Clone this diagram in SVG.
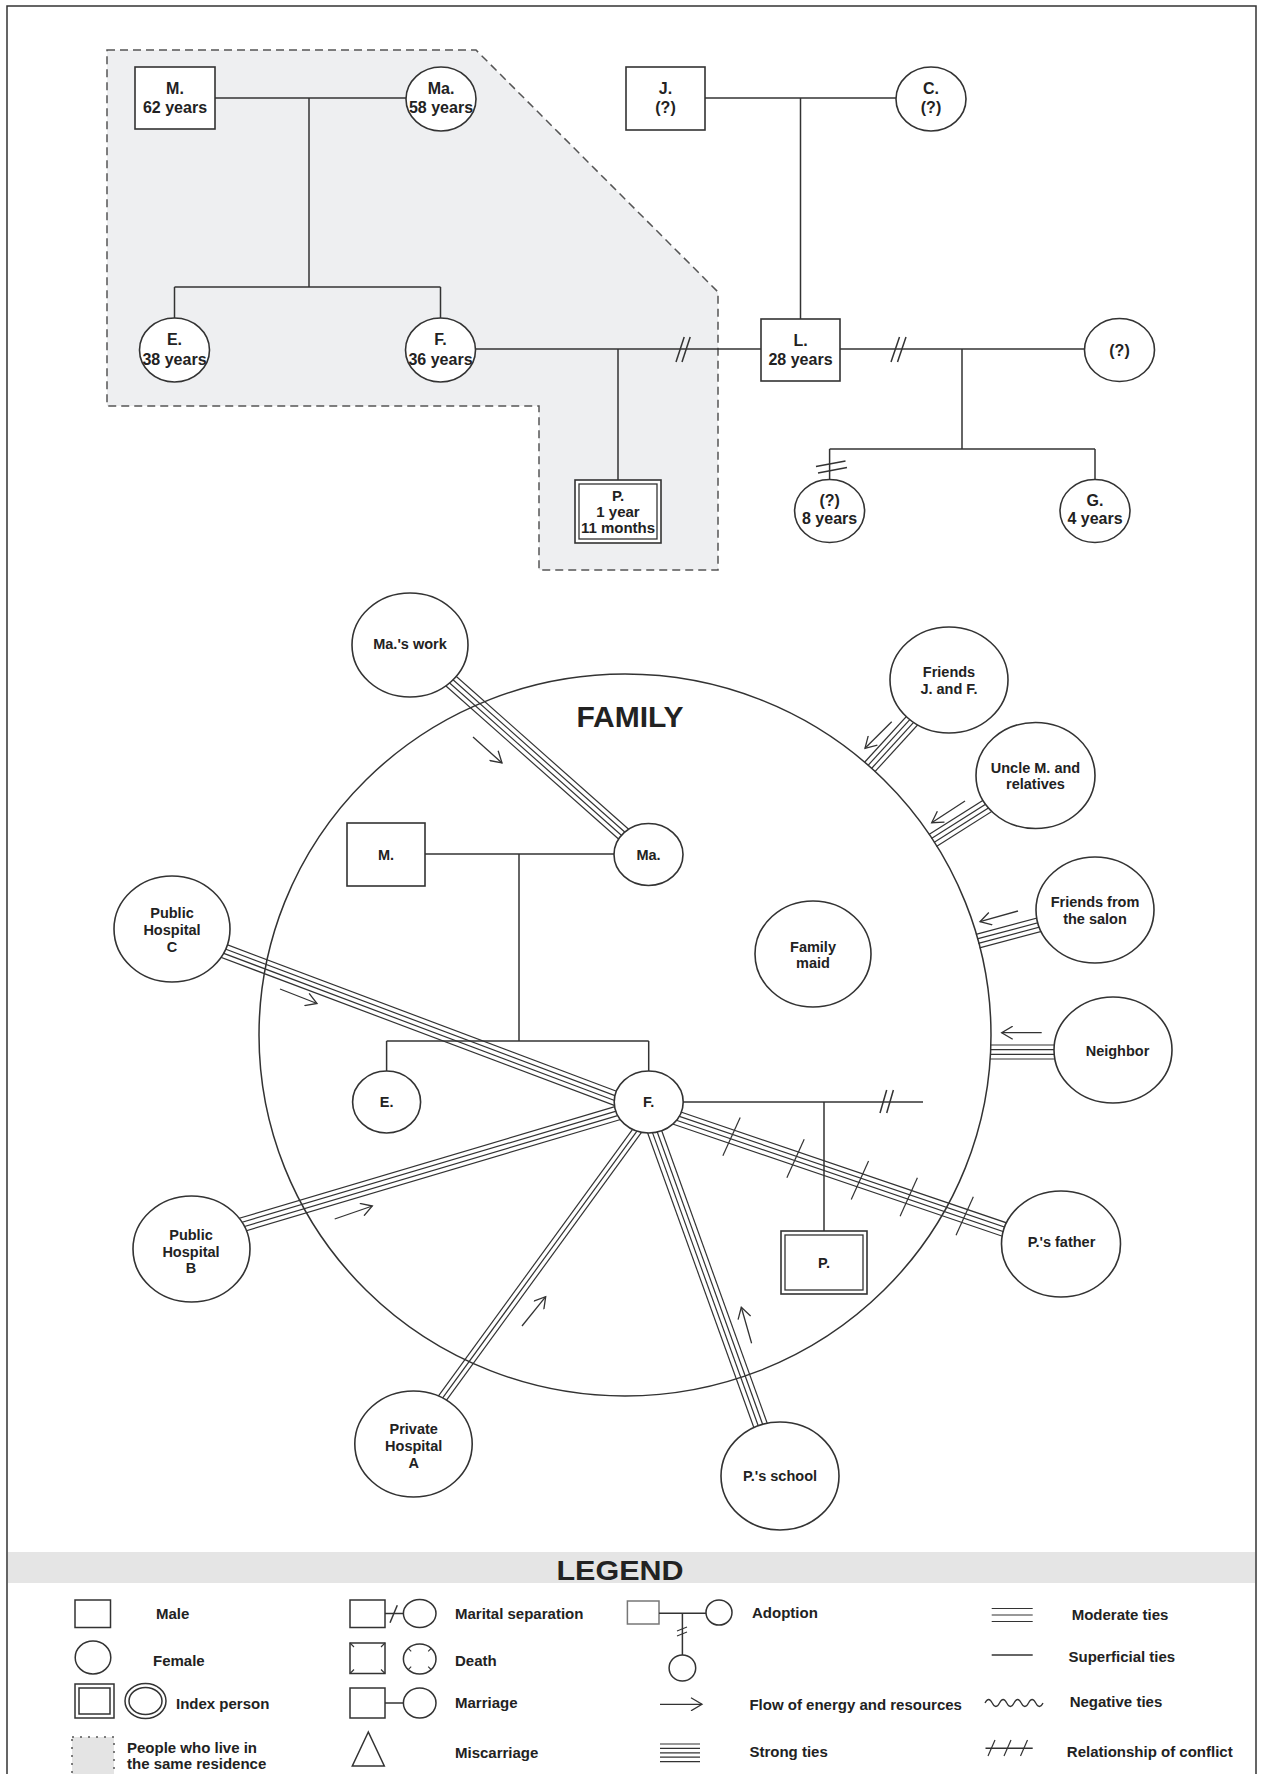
<svg xmlns="http://www.w3.org/2000/svg" width="1264" height="1774" viewBox="0 0 1264 1774">
<defs>
<marker id="arr" markerUnits="userSpaceOnUse" markerWidth="14" markerHeight="14" refX="12" refY="7" orient="auto" viewBox="0 0 14 14"><path d="M1,0.5 L12,7 L1,13.5" fill="none" stroke="#333" stroke-width="1.3"/></marker>
</defs>
<style>
.ln{stroke:#333;stroke-width:1.5;fill:none}
.nd{fill:#fff;stroke:#333;stroke-width:1.6}
.t{font-family:"Liberation Sans",Arial,sans-serif;font-weight:bold;fill:#222;text-anchor:middle}
.t16{font-size:16px}
.t14{font-size:14.5px}
.lg{font-family:"Liberation Sans",Arial,sans-serif;font-weight:bold;font-size:15px;fill:#222}
.tie line{stroke:#333;stroke-width:1.2}
.flow{stroke:#333;stroke-width:1.3;fill:none;marker-end:url(#arr)}
.sl{stroke:#333;stroke-width:1.4}
</style>
<rect x="0" y="0" width="1264" height="1774" fill="#fff"/>
<path d="M7,1774 V6 H1256 V1774" fill="none" stroke="#333" stroke-width="1.5"/>

<!-- ===== Top genogram ===== -->
<g id="residence">
<polygon points="107,50 476,50 718,292 718,570 539,570 539,406 107,406" fill="#eeeff1" stroke="#555" stroke-width="1.5" stroke-dasharray="8 5"/>
</g>
<g id="genogram-lines" class="ln">
<line x1="215" y1="98" x2="406" y2="98"/>
<line x1="309" y1="98" x2="309" y2="287"/>
<line x1="174.5" y1="287" x2="440.5" y2="287"/>
<line x1="174.5" y1="287" x2="174.5" y2="318"/>
<line x1="440.5" y1="287" x2="440.5" y2="318"/>
<line x1="475" y1="349" x2="761" y2="349"/>
<line x1="618" y1="349" x2="618" y2="480"/>
<line x1="676" y1="362" x2="684.2" y2="337"/>
<line x1="682" y1="362" x2="690.2" y2="337"/>
<line x1="705" y1="98" x2="896" y2="98"/>
<line x1="800.5" y1="98" x2="800.5" y2="319"/>
<line x1="840" y1="349" x2="1085" y2="349"/>
<line x1="891" y1="362" x2="899.5" y2="337"/>
<line x1="897.5" y1="362" x2="906" y2="337"/>
<line x1="962" y1="349" x2="962" y2="449"/>
<line x1="829.6" y1="449" x2="1095" y2="449"/>
<line x1="829.6" y1="449" x2="829.6" y2="480"/>
<line x1="1095" y1="449" x2="1095" y2="480"/>
<line x1="816" y1="466.5" x2="845.5" y2="461"/>
<line x1="818" y1="473" x2="847" y2="467.5"/>
</g>
<g id="g-M"><rect class="nd" x="135" y="67" width="80" height="62"/><text class="t t16" x="175" y="94">M.</text><text class="t t16" x="175" y="113">62 years</text></g>
<g id="g-Ma"><ellipse class="nd" cx="441" cy="99" rx="35" ry="32"/><text class="t t16" x="441" y="94">Ma.</text><text class="t t16" x="441" y="113">58 years</text></g>
<g id="g-E"><ellipse class="nd" cx="174.5" cy="350" rx="35" ry="32"/><text class="t t16" x="174.5" y="345">E.</text><text class="t t16" x="174.5" y="364.5">38 years</text></g>
<g id="g-F"><ellipse class="nd" cx="440.5" cy="350" rx="35" ry="32"/><text class="t t16" x="440.5" y="345">F.</text><text class="t t16" x="440.5" y="364.5">36 years</text></g>
<g id="g-P"><rect class="nd" x="575" y="480" width="86" height="63"/><rect x="579" y="484" width="78" height="55" fill="none" stroke="#333" stroke-width="1.3"/><text class="t" style="font-size:15px" x="618" y="500.5">P.</text><text class="t" style="font-size:15px" x="618" y="517">1 year</text><text class="t" style="font-size:15px" x="618" y="532.5">11 months</text></g>
<g id="g-J"><rect class="nd" x="626" y="67" width="79" height="63"/><text class="t t16" x="665.5" y="94">J.</text><text class="t t16" x="665.5" y="113">(?)</text></g>
<g id="g-C"><ellipse class="nd" cx="931" cy="99" rx="35" ry="32"/><text class="t t16" x="931" y="94">C.</text><text class="t t16" x="931" y="113">(?)</text></g>
<g id="g-L"><rect class="nd" x="761" y="319" width="79" height="62"/><text class="t t16" x="800.5" y="345.5">L.</text><text class="t t16" x="800.5" y="364.5">28 years</text></g>
<g id="g-Lwife"><ellipse class="nd" cx="1119.5" cy="350" rx="35" ry="31.5"/><text class="t t16" x="1119.5" y="356">(?)</text></g>
<g id="g-child8"><ellipse class="nd" cx="829.6" cy="511" rx="35" ry="31.5"/><text class="t t16" x="829.6" y="506">(?)</text><text class="t t16" x="829.6" y="524">8 years</text></g>
<g id="g-G"><ellipse class="nd" cx="1095" cy="511" rx="35" ry="31.5"/><text class="t t16" x="1095" y="506">G.</text><text class="t t16" x="1095" y="524">4 years</text></g>

<!-- ===== Eco-map ===== -->
<g id="family-circle">
<ellipse cx="625" cy="1035" rx="366" ry="361" fill="none" stroke="#333" stroke-width="1.5"/>
<text class="t" style="font-size:30px" x="630" y="727">FAMILY</text>
</g>
<g id="eco-genogram-lines" class="ln">
<line x1="425" y1="854" x2="614" y2="854"/>
<line x1="519" y1="854" x2="519" y2="1041"/>
<line x1="386.6" y1="1041" x2="648.7" y2="1041"/>
<line x1="386.6" y1="1041" x2="386.6" y2="1071"/>
<line x1="648.7" y1="1041" x2="648.7" y2="1071"/>
<line x1="683" y1="1102" x2="923" y2="1102"/>
<line x1="824" y1="1102" x2="824" y2="1231"/>
<line x1="880" y1="1113" x2="886.7" y2="1090"/>
<line x1="886.7" y1="1113" x2="893.4" y2="1090"/>
</g>
<g id="connectors">
<g class="tie" transform="translate(443 674) rotate(41.57)"><line x1="0" y1="-7" x2="248" y2="-7"/><line x1="0" y1="-2.33" x2="248" y2="-2.33"/><line x1="0" y1="2.33" x2="248" y2="2.33"/><line x1="0" y1="7" x2="248" y2="7"/></g>
<g class="tie" transform="translate(210 945.7) rotate(20.63)"><line x1="0" y1="-7" x2="441" y2="-7"/><line x1="0" y1="-2.33" x2="441" y2="-2.33"/><line x1="0" y1="2.33" x2="441" y2="2.33"/><line x1="0" y1="7" x2="441" y2="7"/></g>
<g class="tie" transform="translate(231 1228) rotate(-16.55)"><line x1="0" y1="-7" x2="409.6" y2="-7"/><line x1="0" y1="-2.33" x2="409.6" y2="-2.33"/><line x1="0" y1="2.33" x2="409.6" y2="2.33"/><line x1="0" y1="7" x2="409.6" y2="7"/></g>
<g class="tie" transform="translate(434.7 1408.8) rotate(-53.94)"><line x1="0" y1="-4.5" x2="347.6" y2="-4.5"/><line x1="0" y1="0" x2="347.6" y2="0"/><line x1="0" y1="4.5" x2="347.6" y2="4.5"/></g>
<g class="tie" transform="translate(766.1 1440.8) rotate(-109.83)"><line x1="0" y1="-7" x2="333.5" y2="-7"/><line x1="0" y1="-2.33" x2="333.5" y2="-2.33"/><line x1="0" y1="2.33" x2="333.5" y2="2.33"/><line x1="0" y1="7" x2="333.5" y2="7"/></g>
<g class="tie" transform="translate(668.3 1115.1) rotate(18.8)"><line x1="0" y1="-7" x2="371.7" y2="-7"/><line x1="0" y1="-2.33" x2="371.7" y2="-2.33"/><line x1="0" y1="2.33" x2="371.7" y2="2.33"/><line x1="0" y1="7" x2="371.7" y2="7"/>
<line x1="64.8" y1="21" x2="68.8" y2="-21"/><line x1="132.4" y1="21" x2="136.4" y2="-21"/><line x1="200.4" y1="21" x2="204.4" y2="-21"/><line x1="252" y1="21" x2="256" y2="-21"/><line x1="311.1" y1="21" x2="315.1" y2="-21"/></g>
<g class="tie" transform="translate(625 1035) rotate(-47.6)"><line x1="363" y1="-7" x2="480" y2="-7"/><line x1="363" y1="-2.33" x2="480" y2="-2.33"/><line x1="363" y1="2.33" x2="480" y2="2.33"/><line x1="363" y1="7" x2="480" y2="7"/></g>
<g class="tie" transform="translate(625 1035) rotate(-32.3)"><line x1="364" y1="-7" x2="485" y2="-7"/><line x1="364" y1="-2.33" x2="485" y2="-2.33"/><line x1="364" y1="2.33" x2="485" y2="2.33"/><line x1="364" y1="7" x2="485" y2="7"/></g>
<g class="tie" transform="translate(625 1035) rotate(-14.9)"><line x1="365" y1="-7" x2="486" y2="-7"/><line x1="365" y1="-2.33" x2="486" y2="-2.33"/><line x1="365" y1="2.33" x2="486" y2="2.33"/><line x1="365" y1="7" x2="486" y2="7"/></g>
<g class="tie" transform="translate(0 1052)"><line x1="990" y1="-7" x2="1113" y2="-7"/><line x1="990" y1="-2.33" x2="1113" y2="-2.33"/><line x1="990" y1="2.33" x2="1113" y2="2.33"/><line x1="990" y1="7" x2="1113" y2="7"/></g>
<line class="flow" x1="473" y1="737" x2="502" y2="763"/>
<line class="flow" x1="280" y1="989" x2="317" y2="1003.5"/>
<line class="flow" x1="334.7" y1="1219" x2="372.3" y2="1206"/>
<line class="flow" x1="522" y1="1326" x2="545.7" y2="1296.7"/>
<line class="flow" x1="751.6" y1="1343.3" x2="741.3" y2="1307.3"/>
<line class="flow" x1="891.7" y1="721.7" x2="865" y2="748.3"/>
<line class="flow" x1="965" y1="801" x2="931.7" y2="822.7"/>
<line class="flow" x1="1018" y1="911" x2="980" y2="921.7"/>
<line class="flow" x1="1041.7" y1="1032.7" x2="1001.7" y2="1032.7"/>
</g>
<g id="e-M"><rect class="nd" x="347" y="823" width="78" height="63"/><text class="t t14" x="386" y="860">M.</text></g>
<g id="e-Ma"><ellipse class="nd" cx="648.5" cy="854.5" rx="34.5" ry="31"/><text class="t t14" x="648.5" y="859.5">Ma.</text></g>
<g id="e-E"><ellipse class="nd" cx="386.6" cy="1102" rx="34" ry="31"/><text class="t t14" x="386.6" y="1107">E.</text></g>
<g id="e-F"><ellipse class="nd" cx="648.7" cy="1102" rx="34.5" ry="31"/><text class="t t14" x="648.7" y="1107">F.</text></g>
<g id="e-P"><rect class="nd" x="781" y="1231" width="86" height="63"/><rect x="785" y="1235" width="78" height="55" fill="none" stroke="#333" stroke-width="1.3"/><text class="t t14" x="824" y="1267.5">P.</text></g>
<g id="e-maid"><ellipse class="nd" cx="813" cy="954" rx="58" ry="53"/><text class="t t14" x="813" y="952">Family</text><text class="t t14" x="813" y="968">maid</text></g>
<g id="e-mawork"><ellipse class="nd" cx="410" cy="645" rx="58" ry="52"/><text class="t t14" x="410" y="649">Ma.'s work</text></g>
<g id="e-friendsJF"><ellipse class="nd" cx="949" cy="680" rx="59" ry="53"/><text class="t t14" x="949" y="677">Friends</text><text class="t t14" x="949" y="694">J. and F.</text></g>
<g id="e-uncle"><ellipse class="nd" cx="1035.5" cy="775.5" rx="59.5" ry="53"/><text class="t t14" x="1035.5" y="772.5">Uncle M. and</text><text class="t t14" x="1035.5" y="789">relatives</text></g>
<g id="e-salon"><ellipse class="nd" cx="1095" cy="910" rx="59" ry="53"/><text class="t t14" x="1095" y="907">Friends from</text><text class="t t14" x="1095" y="924">the salon</text></g>
<g id="e-neighbor"><ellipse class="nd" cx="1113" cy="1050" rx="59" ry="53"/><text class="t t14" x="1117.5" y="1056">Neighbor</text></g>
<g id="e-pfather"><ellipse class="nd" cx="1061" cy="1244" rx="59.5" ry="53"/><text class="t t14" x="1061.5" y="1247">P.'s father</text></g>
<g id="e-school"><ellipse class="nd" cx="780" cy="1476" rx="59" ry="54"/><text class="t t14" x="780" y="1481">P.'s school</text></g>
<g id="e-privA"><ellipse class="nd" cx="413.5" cy="1444" rx="58.7" ry="53"/><text class="t t14" x="413.7" y="1434">Private</text><text class="t t14" x="413.7" y="1451">Hospital</text><text class="t t14" x="413.7" y="1468">A</text></g>
<g id="e-pubB"><ellipse class="nd" cx="191.5" cy="1249" rx="58.5" ry="53"/><text class="t t14" x="191" y="1240">Public</text><text class="t t14" x="191" y="1257">Hospital</text><text class="t t14" x="191" y="1273">B</text></g>
<g id="e-pubC"><ellipse class="nd" cx="172" cy="929" rx="58" ry="53"/><text class="t t14" x="172" y="918">Public</text><text class="t t14" x="172" y="935">Hospital</text><text class="t t14" x="172" y="952">C</text></g>

<!-- ===== Legend ===== -->
<g id="legend">
<rect x="8" y="1552" width="1247" height="31" fill="#e5e5e5"/>
<text class="t" style="font-size:27px" x="620" y="1580" textLength="127" lengthAdjust="spacingAndGlyphs">LEGEND</text>
<g class="ln">
<rect x="75" y="1600" width="35.5" height="27.5"/>
<ellipse cx="93" cy="1657.5" rx="17.8" ry="16.5"/>
<rect x="75" y="1684" width="39" height="34"/><rect x="79" y="1688" width="31" height="26"/>
<ellipse cx="145.5" cy="1701" rx="20.5" ry="17.5"/><ellipse cx="145.5" cy="1701" rx="16.5" ry="13.5"/>
<rect x="350" y="1600" width="35" height="27.5"/><line x1="385" y1="1613.5" x2="403.4" y2="1613.5"/><line x1="390" y1="1622.7" x2="397.3" y2="1605.3"/><ellipse cx="419.7" cy="1613.5" rx="16.3" ry="14"/>
<rect x="350" y="1643" width="35" height="30.5"/>
<path d="M350,1643 l4,4 M385,1643 l-4,4 M350,1673.5 l4,-4 M385,1673.5 l-4,-4" stroke-width="1.1"/>
<ellipse cx="419.7" cy="1659" rx="16.3" ry="15"/>
<path d="M408.2,1648.4 l3,3 M431.2,1648.4 l-3,3 M408.2,1669.6 l3,-3 M431.2,1669.6 l-3,-3" stroke-width="1.1"/>
<rect x="350" y="1688" width="35" height="30"/><line x1="385" y1="1703" x2="403.4" y2="1703"/><ellipse cx="419.7" cy="1703" rx="16.3" ry="15"/>
<polygon points="368.3,1732 352.3,1766 384.3,1766"/>
<rect x="627.4" y="1601" width="31.6" height="23" stroke="#777"/><line x1="659" y1="1613.3" x2="706" y2="1613.3"/><ellipse cx="719" cy="1612.5" rx="13" ry="12.5"/>
<line x1="682.4" y1="1613.3" x2="682.4" y2="1655"/>
<line x1="677" y1="1631" x2="687" y2="1627" stroke-width="1.1"/><line x1="677" y1="1636" x2="687" y2="1632" stroke-width="1.1"/>
<ellipse cx="682.4" cy="1668" rx="13.3" ry="13"/>
<line class="flow" x1="660" y1="1704.3" x2="702" y2="1704.3"/>
<g stroke-width="1.2"><line x1="660" y1="1744" x2="700" y2="1744"/><line x1="660" y1="1748.4" x2="700" y2="1748.4"/><line x1="660" y1="1752.8" x2="700" y2="1752.8"/><line x1="660" y1="1757.2" x2="700" y2="1757.2"/><line x1="660" y1="1761.6" x2="700" y2="1761.6"/></g>
<g stroke-width="1.2"><line x1="991.7" y1="1608.5" x2="1032.7" y2="1608.5"/><line x1="991.7" y1="1615" x2="1032.7" y2="1615"/><line x1="991.7" y1="1621.5" x2="1032.7" y2="1621.5"/></g>
<line x1="991.7" y1="1655" x2="1032.7" y2="1655"/>
<path d="M985,1703 q3.6,-7 7.25,0 t7.25,0 t7.25,0 t7.25,0 t7.25,0 t7.25,0 t7.25,0 t7.25,0" stroke-width="1.3"/>
<line x1="985.5" y1="1748.3" x2="1032.7" y2="1748.3"/>
<path d="M988,1756 l7,-16 M1004,1756 l7,-16 M1020.5,1756 l7,-16" stroke-width="1.2"/>
</g>
<rect x="72" y="1737" width="42" height="40" fill="#e4e4e4" stroke="#555" stroke-width="1.5" stroke-dasharray="2 6"/>
<text class="lg" x="156" y="1619">Male</text>
<text class="lg" x="153" y="1666">Female</text>
<text class="lg" x="176" y="1709">Index person</text>
<text class="lg" x="127" y="1752.5">People who live in</text>
<text class="lg" x="127" y="1769">the same residence</text>
<text class="lg" x="455" y="1619">Marital separation</text>
<text class="lg" x="455" y="1666">Death</text>
<text class="lg" x="455" y="1708">Marriage</text>
<text class="lg" x="455" y="1757.5">Miscarriage</text>
<text class="lg" x="752" y="1618">Adoption</text>
<text class="lg" x="749.4" y="1709.5">Flow of energy and resources</text>
<text class="lg" x="749.4" y="1756.7">Strong ties</text>
<text class="lg" x="1071.7" y="1620">Moderate ties</text>
<text class="lg" x="1068.5" y="1661.7">Superficial ties</text>
<text class="lg" x="1069.7" y="1706.7">Negative ties</text>
<text class="lg" x="1066.8" y="1756.7">Relationship of conflict</text>
</g>
</svg>
